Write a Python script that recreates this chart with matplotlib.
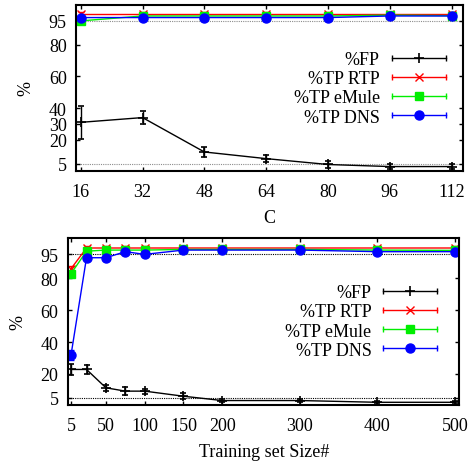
import numpy as np
import matplotlib
matplotlib.use("Agg")
import matplotlib.pyplot as plt
from matplotlib.lines import Line2D
from matplotlib.legend_handler import HandlerBase

plt.rcParams['font.family'] = ['Liberation Serif', 'DejaVu Serif']
plt.rcParams['font.size'] = 13

# top panel: varying C
c_vals = [16, 32, 48, 64, 80, 96, 112]
fp_c = [31, 34, 12.3, 8.1, 4.4, 3.1, 3.1]
fp_c_err = [10.5, 4, 3.3, 2.2, 2, 1.5, 1.5]
rtp_c = [99.3, 99.3, 99.3, 99.3, 99.3, 99.3, 99.3]
emule_c = [95, 98.1, 98.1, 98.1, 98.1, 98.6, 98.3]
dns_c = [97.1, 97.1, 97.1, 97.1, 97.1, 98.1, 98.1]
tp_c_err = [1, 1, 1, 1, 1, 1, 1]

# bottom panel: varying training set size
n_vals = [5, 25, 50, 75, 100, 150, 200, 300, 400, 500]
fp_n = [22.8, 22.8, 11.3, 9.2, 9.2, 6, 3.3, 3.3, 2.2, 2.2]
fp_n_err = [3.2, 3, 2, 2.5, 1.6, 1.8, 1, 1, 0.8, 0.8]
rtp_n = [86, 99, 99, 99, 99, 99, 99, 99, 99, 99]
rtp_n_err = [2, 1, 1, 1, 1, 1, 1, 1, 1, 1]
emule_n = [82.9, 97, 97.7, 97.7, 97.7, 98.1, 98.1, 98.1, 97.7, 97.5]
dns_n = [31.8, 92.9, 92.9, 96.7, 95, 97.7, 97.7, 97.7, 96.7, 96.7]
dns_n_err = [3, 1, 1, 1, 1, 0.5, 0.5, 0.5, 0.5, 0.5]

yticks_top = [5, 20, 30, 40, 60, 80, 95]
yticks_bottom = [5, 20, 40, 60, 80, 95]
xticks_bottom = [5, 50, 100, 150, 200, 300, 400, 500]
labels = ['%FP', '%TP RTP', '%TP eMule', '%TP DNS']


class CapHandler(HandlerBase):
    def create_artists(self, legend, orig, xdescent, ydescent, width, height,
                       fontsize, trans):
        y = height / 2 - ydescent
        x0, x1 = -xdescent, width - xdescent
        col = orig.get_color()
        ln = Line2D([x0, x1], [y, y], color=col, lw=1)
        caps = Line2D([x0, x1], [y, y], ls='none', marker='|', ms=5,
                      mew=1, color=col)
        mk = Line2D([(x0 + x1) / 2], [y], ls='none', marker=orig.get_marker(),
                    ms=orig.get_markersize(), mew=orig.get_markeredgewidth(),
                    color=col)
        for a in (ln, caps, mk):
            a.set_transform(trans)
        return [ln, caps, mk]


styles = [dict(color='k', marker='+', ms=7, mew=1.2),
          dict(color='#ff0000', marker='x', ms=6, mew=1),
          dict(color='#00ee00', marker='s', ms=5.5),
          dict(color='#0000ff', marker='o', ms=6.5)]


def draw(ax, x, series, errs, refcol, yticks):
    ax.axhline(95, color=refcol, ls=(0, (1, 1)), lw=0.8, zorder=1)
    ax.axhline(5, color=refcol, ls=(0, (1, 1)), lw=0.8, zorder=1)
    for y, e, st in zip(series, errs, styles):
        ax.errorbar(x, y, yerr=e, lw=1, capsize=2, elinewidth=1, capthick=1, **st)
    proxies = [Line2D([], [], **st) for st in styles]
    ax.set_ylim(0.5, 105.3)
    ax.set_yticks(yticks)
    ax.tick_params(direction='in', length=3, width=1, top=True, right=True,
                   labelsize=13)
    ax.tick_params(axis='x', pad=9)
    ax.tick_params(axis='y', pad=7)
    for s in ax.spines.values():
        s.set_linewidth(1.5)
    ax.set_ylabel('%', labelpad=10)
    return proxies


fig = plt.figure(figsize=(4.69, 4.64), dpi=100)

ax1 = fig.add_axes([0.163, 0.63, 0.8236, 0.358])
p = draw(ax1, c_vals, [fp_c, rtp_c, emule_c, dns_c],
         [fp_c_err, tp_c_err, [0.5] * 7, [0.5] * 7], '0.55', yticks_top)
ax1.set_xlim(14.9, 114.85)
ax1.set_xticks(c_vals)
ax1.set_xlabel('C', labelpad=6)
ax1.legend(p, labels, handler_map={Line2D: CapHandler()}, loc='upper right',
           bbox_to_anchor=(0.956, 0.72), frameon=False, markerfirst=False,
           handlelength=3, handletextpad=0.65, labelspacing=0.12,
           borderpad=0, borderaxespad=0, fontsize=13)

ax2 = fig.add_axes([0.1456, 0.125, 0.8337, 0.36])
p = draw(ax2, n_vals, [fp_n, rtp_n, emule_n, dns_n],
         [fp_n_err, rtp_n_err, [0.5] * 10, dns_n_err], 'k', yticks_bottom)
ax2.set_xlim(1.5, 505.5)
ax2.set_xticks(xticks_bottom)
ax2.set_xlabel('Training set Size#', labelpad=6)
ax2.legend(p, labels, handler_map={Line2D: CapHandler()}, loc='upper right',
           bbox_to_anchor=(0.944, 0.723), frameon=False, markerfirst=False,
           handlelength=3, handletextpad=0.65, labelspacing=0.12,
           borderpad=0, borderaxespad=0, fontsize=13)

fig.savefig('out.png', dpi=100)
